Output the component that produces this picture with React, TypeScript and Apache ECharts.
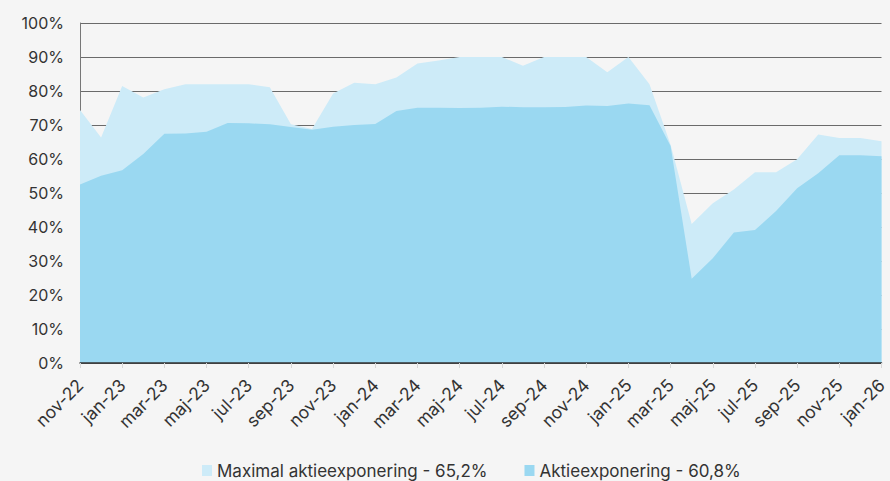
import React, { useEffect, useRef } from "react";
import * as echarts from "echarts";

const categories = [
  "nov-22", "dec-22",
  "jan-23", "feb-23", "mar-23", "apr-23", "maj-23", "jun-23", "jul-23", "aug-23", "sep-23", "okt-23", "nov-23", "dec-23",
  "jan-24", "feb-24", "mar-24", "apr-24", "maj-24", "jun-24", "jul-24", "aug-24", "sep-24", "okt-24", "nov-24", "dec-24",
  "jan-25", "feb-25", "mar-25", "apr-25", "maj-25", "jun-25", "jul-25", "aug-25", "sep-25", "okt-25", "nov-25", "dec-25",
  "jan-26",
];

const maxExposure = [
  74.4, 66.3, 81.5, 78.1, 80.5, 82, 82, 82, 82, 81.1, 70.2, 68.8, 79.3,
  82.4, 82, 84, 88.1, 89, 90, 90, 90, 87.4, 90, 90, 90, 85.5,
  90, 82, 64.2, 40.9, 47, 51, 56.1, 56.1, 59.9, 67.2, 66.2, 66.2, 65.2,
];

const exposure = [
  52.5, 55.1, 56.7, 61.5, 67.4, 67.5, 68, 70.6, 70.5, 70.2, 69.4, 68.6, 69.5,
  70, 70.3, 74.1, 75.1, 75.1, 75, 75.1, 75.4, 75.2, 75.2, 75.3, 75.7, 75.6,
  76.3, 75.8, 63.8, 24.8, 30.8, 38.4, 39.1, 44.7, 51.4, 55.8, 61.1, 61.1, 60.8,
];

const seriesNames = ["Maximal aktieexponering - 65,2%", "Aktieexponering - 60,8%"];

export default function App() {
  const ref = useRef<HTMLDivElement>(null);
  useEffect(() => {
    if (!ref.current) return;
    const chart = echarts.init(ref.current, null, { renderer: "svg" });
    const font = "Inter, Roboto, sans-serif";
    chart.setOption({
      animation: false,
      backgroundColor: "#f5f5f5",
      textStyle: { fontFamily: font },
      grid: { left: 80, right: 4, top: 23, bottom: 118, containLabel: false },
      legend: {
        data: seriesNames,
        top: 462,
        left: 202,
        padding: 0,
        icon: "rect",
        itemWidth: 10,
        itemHeight: 11,
        itemGap: 37,
        textStyle: { fontSize: 17, color: "#333", fontFamily: font },
      },
      xAxis: {
        type: "category",
        data: categories,
        boundaryGap: false,
        axisLine: { show: true, lineStyle: { color: "#333", width: 1.5 } },
        axisTick: { show: true, interval: 1, length: 5, lineStyle: { color: "#d8d8d8" } },
        axisLabel: {
          interval: 1,
          rotate: 45,
          fontSize: 17.5,
          color: "#333",
          fontFamily: font,
          margin: 19,
        },
        splitLine: { show: false },
        z: 10,
      },
      yAxis: {
        type: "value",
        min: 0,
        max: 100,
        interval: 10,
        axisLine: { show: true, lineStyle: { color: "#777", width: 1 } },
        axisTick: { show: false },
        axisLabel: {
          formatter: "{value}%",
          fontSize: 16,
          color: "#333",
          fontFamily: font,
          margin: 16,
        },
        splitLine: { show: true, lineStyle: { color: "#6a6a6a", width: 1 } },
      },
      series: [
        {
          name: seriesNames[0],
          type: "line",
          data: maxExposure,
          symbol: "none",
          lineStyle: { width: 0 },
          itemStyle: { color: "#cdebf8" },
          areaStyle: { color: "#cdebf8", opacity: 1 },
          z: 2,
        },
        {
          name: seriesNames[1],
          type: "line",
          data: exposure,
          symbol: "none",
          lineStyle: { width: 0 },
          itemStyle: { color: "#9ad8f1" },
          areaStyle: { color: "#9ad8f1", opacity: 1 },
          z: 3,
        },
      ],
    });
    return () => chart.dispose();
  }, []);
  return <div ref={ref} style={{ width: 890, height: 481, position: "absolute", left: 0, top: 0 }} />;
}
